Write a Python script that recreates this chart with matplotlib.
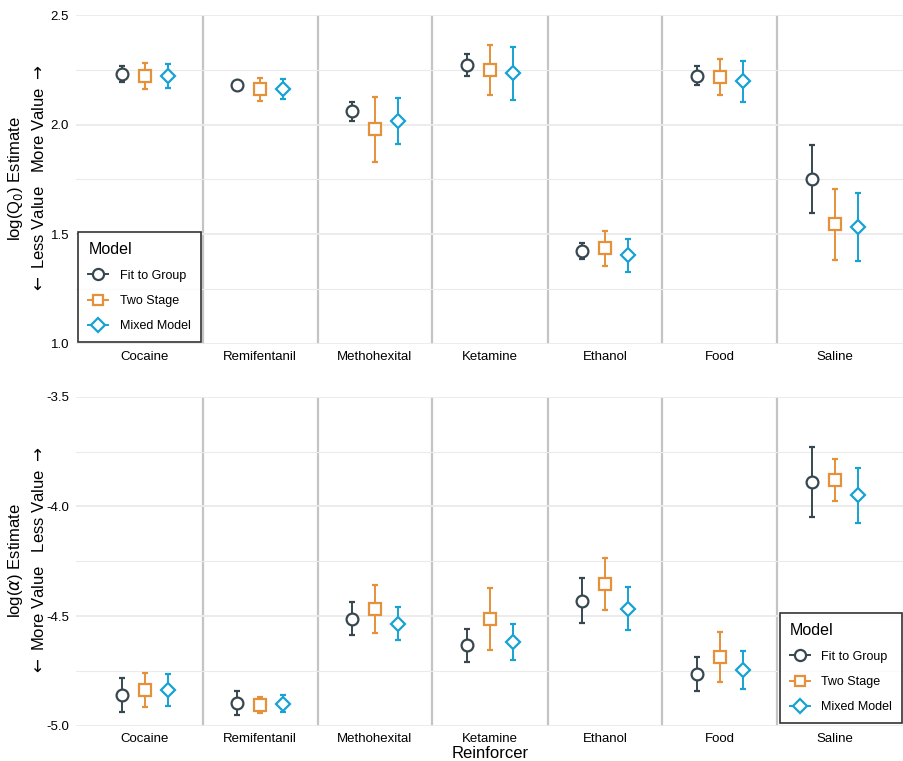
import numpy as np
import matplotlib.pyplot as plt
from matplotlib.lines import Line2D

plt.rcParams['font.family'] = ['Liberation Sans', 'DejaVu Sans']

reinforcers = ["Cocaine", "Remifentanil", "Methohexital", "Ketamine", "Ethanol", "Food", "Saline"]
models = ["Fit to Group", "Two Stage", "Mixed Model"]

# log(Q0): estimate, lower, upper  (per model)
q0_group = [2.231, 2.181, 2.061, 2.272, 1.424, 2.223, 1.752]
q0_group_lo = [2.193, 2.168, 2.018, 2.221, 1.386, 2.181, 1.597]
q0_group_hi = [2.269, 2.194, 2.105, 2.321, 1.462, 2.266, 1.909]
q0_two = [2.222, 2.161, 1.980, 2.249, 1.436, 2.219, 1.546]
q0_two_lo = [2.163, 2.109, 1.831, 2.135, 1.357, 2.134, 1.383]
q0_two_hi = [2.283, 2.214, 2.128, 2.363, 1.517, 2.301, 1.708]
q0_mixed = [2.222, 2.163, 2.015, 2.234, 1.406, 2.199, 1.533]
q0_mixed_lo = [2.169, 2.117, 1.910, 2.114, 1.330, 2.105, 1.377]
q0_mixed_hi = [2.278, 2.208, 2.123, 2.354, 1.480, 2.292, 1.690]

# log(alpha)
a_group = [-4.859, -4.897, -4.512, -4.634, -4.430, -4.763, -3.891]
a_group_lo = [-4.936, -4.951, -4.585, -4.708, -4.532, -4.842, -4.050]
a_group_hi = [-4.781, -4.840, -4.438, -4.558, -4.328, -4.685, -3.729]
a_two = [-4.837, -4.907, -4.468, -4.512, -4.356, -4.685, -3.878]
a_two_lo = [-4.915, -4.944, -4.579, -4.653, -4.474, -4.799, -3.974]
a_two_hi = [-4.760, -4.868, -4.357, -4.372, -4.237, -4.573, -3.783]
a_mixed = [-4.837, -4.900, -4.535, -4.619, -4.467, -4.746, -3.950]
a_mixed_lo = [-4.909, -4.938, -4.609, -4.699, -4.564, -4.833, -4.076]
a_mixed_hi = [-4.766, -4.859, -4.460, -4.538, -4.368, -4.660, -3.824]

colors = ["#37474F", "#E5913A", "#17A2D4"]
markers = ["o", "s", "D"]
msizes = [8.5, 8, 7.5]
offsets = [-0.2, 0.0, 0.2]


def draw_panel(ax, series, ylim, yticks, minor):
    x = np.arange(len(reinforcers))
    for k, (est, lo, hi) in enumerate(series):
        est = np.array(est); lo = np.array(lo); hi = np.array(hi)
        ax.errorbar(x + offsets[k], est, yerr=[est - lo, hi - est], fmt=markers[k],
                    color=colors[k], ecolor=colors[k], elinewidth=1.4, capsize=2.5, capthick=1.4,
                    markersize=msizes[k], markerfacecolor="white", markeredgewidth=1.6, zorder=3)
    for b in np.arange(0.5, len(reinforcers) - 1, 1.0):
        ax.axvline(b, color="#C4C4C4", lw=1.6, zorder=1)
    ax.set_xlim(-0.6, len(reinforcers) - 0.4)
    ax.set_ylim(*ylim)
    ax.set_yticks(yticks)
    ax.set_yticks(minor, minor=True)
    ax.set_yticklabels(["%.1f" % t for t in yticks])
    ax.grid(axis="y", which="major", color="#EBEBEB", lw=1.3, zorder=0)
    ax.grid(axis="y", which="minor", color="#EBEBEB", lw=0.8, zorder=0)
    ax.set_xticks(x)
    ax.set_xticklabels(reinforcers, fontsize=9.5)
    ax.tick_params(axis="both", length=0, labelsize=9.5, pad=5)
    ax.tick_params(axis="y", which="minor", length=0)
    for s in ax.spines.values():
        s.set_visible(False)


def add_legend(ax, loc, anchor):
    handles = [Line2D([], [], color=colors[k], marker=markers[k], markersize=msizes[k] - 0.5,
                      markerfacecolor="white", markeredgewidth=1.6, lw=1.4) for k in range(3)]
    leg = ax.legend(handles, models, title="Model", loc=loc, bbox_to_anchor=anchor,
                    frameon=True, fancybox=False, fontsize=9, title_fontsize=11.5,
                    handlelength=1.6, borderpad=0.8, labelspacing=1.05, handletextpad=0.9,
                    borderaxespad=0)
    leg.get_frame().set_edgecolor("black")
    leg.get_frame().set_linewidth(1.2)
    leg._legend_box.align = "left"


fig = plt.figure(figsize=(9.04, 7.61), dpi=100)
W, H = 904, 761
ax1 = fig.add_axes([76 / W, 1 - 344 / H, (904 - 76) / W, 329 / H])
ax2 = fig.add_axes([76 / W, 1 - 725.7 / H, (904 - 76) / W, 329 / H])

draw_panel(ax1, [(q0_group, q0_group_lo, q0_group_hi), (q0_two, q0_two_lo, q0_two_hi),
                 (q0_mixed, q0_mixed_lo, q0_mixed_hi)],
           (1.0, 2.5), [1.0, 1.5, 2.0, 2.5], [1.25, 1.75, 2.25])
draw_panel(ax2, [(a_group, a_group_lo, a_group_hi), (a_two, a_two_lo, a_two_hi),
                 (a_mixed, a_mixed_lo, a_mixed_hi)],
           (-5.0, -3.5), [-5.0, -4.5, -4.0, -3.5], [-4.75, -4.25, -3.75])

add_legend(ax1, "lower left", (0.003, 0.006))
add_legend(ax2, "lower right", (0.998, 0.008))

ax2.set_xlabel("Reinforcer", fontsize=12, labelpad=1)

fig.text(16 / W, 1 - 179 / H, r"log(Q$_0$) Estimate", rotation=90, ha="center", va="center", fontsize=12)
fig.text(39 / W, 1 - 179 / H, r"$\leftarrow$ Less Value   More Value $\rightarrow$", rotation=90,
         ha="center", va="center", fontsize=12)
fig.text(16 / W, 1 - 561 / H, r"log($\alpha$) Estimate", rotation=90, ha="center", va="center", fontsize=12)
fig.text(39 / W, 1 - 561 / H, r"$\leftarrow$ More Value   Less Value $\rightarrow$", rotation=90,
         ha="center", va="center", fontsize=12)

fig.savefig("out.png", dpi=100)
